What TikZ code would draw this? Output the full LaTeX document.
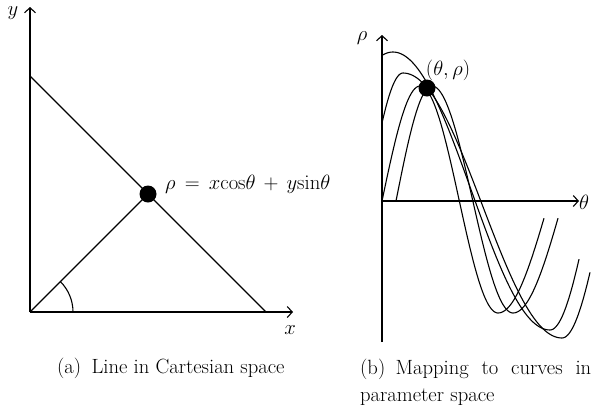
\documentclass[tikz,border=0pt]{standalone}
\usetikzlibrary{arrows.meta}
\begin{document}
\begin{tikzpicture}[x=1bp,y=-1bp]
\tikzset{
  ax/.style={line width=1.2bp, -{Straight Barb[length=5bp,width=11bp,line width=1.1bp]}},
  ln/.style={line width=1.1bp},
  dotc/.style={circle, fill=black, inner sep=0pt, minimum size=17bp},
  lbl/.style={font=\fontsize{20bp}{24bp}\selectfont, inner sep=0pt},
  captxt/.style={font=\fontsize{20.6bp}{27bp}\selectfont, inner sep=0pt}
}
\useasboundingbox (0,0) rectangle (591,412);

% ---------- left panel ----------
\coordinate (O) at (30,312);
\coordinate (Ytop) at (30,7);
\coordinate (Xend) at (293,312);
\coordinate (L1) at (30,76);
\coordinate (L2) at (266,312);
\coordinate (A0) at (73,312);
\draw[ax] (O) -- (Ytop);
\draw[ax] (O) -- (Xend);
\draw[ln] (L1) -- (L2);
\node[dotc] (P) at (148,194) {};
\draw[ln] (O) -- (P.center);
\draw[ln] (A0) arc[start angle=0, end angle=-45, radius=43];
\node[lbl] (ylab) at (13,13) {$y$};
\node[lbl] (xlab) at (290,330) {$x$};
\node[lbl, anchor=west] (eq) at (165,184) {$\rho\,=\,x\mathrm{cos}\theta\,+\,y\mathrm{sin}\theta$};

% ---------- right panel ----------
\coordinate (R0) at (382,201);
\coordinate (Rbot) at (382,342);
\coordinate (Rtop) at (382,35);
\coordinate (Tend) at (579,201);
\draw[ax] (Rbot) -- (Rtop);
\draw[ax] (R0) -- (Tend);
\node[lbl] (rholab) at (362,38) {$\rho$};
\node[lbl, anchor=west] (thlab) at (579,202) {$\theta$};

% curve A
\draw[ln] plot[domain=382:550, samples=80, variable=\t] ({\t},{191-139*cos((\t-393)/157*180)})
  -- plot[domain=550:579, samples=20, variable=\t] ({\t},{330-129*(1-cos((\t-550)/41.3*90))});
% curve B
\draw[ln] plot[domain=382:403, samples=20, variable=\t] ({\t},{73+128*(1-cos((403-\t)/36*90))})
  -- plot[domain=403:562, samples=80, variable=\t] ({\t},{205.5-132.5*cos((\t-403)/159*180)})
  -- plot[domain=562:590, samples=20, variable=\t] ({\t},{338-137*(1-cos((\t-562)/43*90))});
% curve C
\draw[ln] plot[domain=382:420, samples=30, variable=\t] ({\t},{201-115*sin((\t-382)/38*90)})
  -- plot[domain=420:498, samples=60, variable=\t] ({\t},{199.5-113.5*cos((\t-420)/78*180)})
  -- plot[domain=498:544, samples=30, variable=\t] ({\t},{313-112*(1-cos((\t-498)/51*90))});
% curve D
\draw[ln] plot[domain=396:432, samples=30, variable=\t] ({\t},{201-115*sin((\t-396)/36*90)})
  -- plot[domain=432:513, samples=60, variable=\t] ({\t},{199.5-113.5*cos((\t-432)/81*180)})
  -- plot[domain=513:558, samples=30, variable=\t] ({\t},{313-112*(1-cos((\t-513)/49.9*90))});

\node[dotc] (Q) at (427,88) {};
\node[lbl] (qlab) at (448,70) {$(\theta, \rho)$};

% ---------- captions ----------
\node[captxt, anchor=base west] (capa) at (57,373) {(a)\enspace Line in Cartesian space};
\node[captxt, anchor=base west, text width=231bp, align=justify] (capb) at (360,374)
  {(b)\enspace Mapping to curves in\linebreak parameter space};
\end{tikzpicture}
\end{document}
